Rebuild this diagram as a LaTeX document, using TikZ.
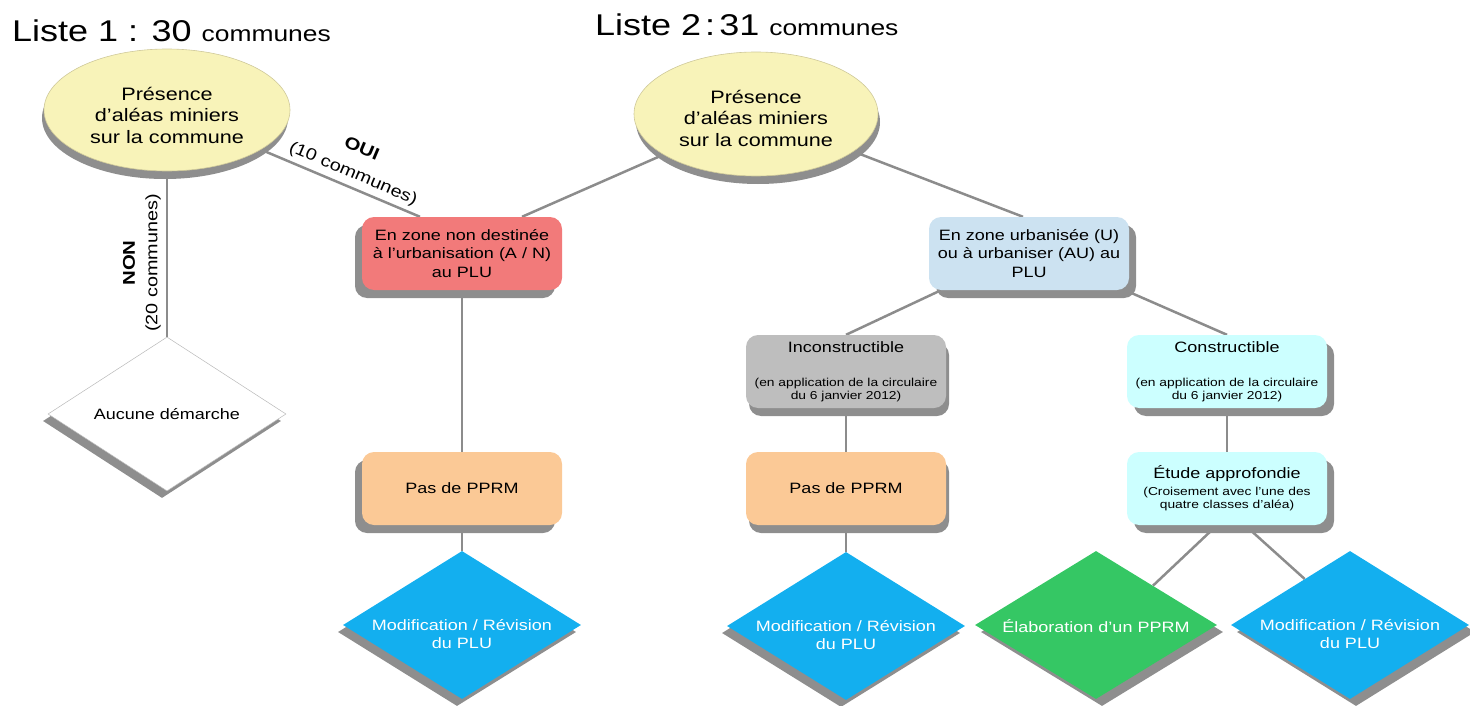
\documentclass[tikz,border=0pt]{standalone}
\usepackage{fontspec}
\setmainfont{Liberation Sans}[FakeStretch=1.2]
\usetikzlibrary{shapes.geometric,shadows,calc}
\definecolor{linec}{HTML}{8C8C8C}
\definecolor{shadowc}{HTML}{8E8E8E}
\definecolor{ellc}{HTML}{F8F3B9}
\definecolor{ellb}{HTML}{CFC99A}
\definecolor{redc}{HTML}{F27A7A}
\definecolor{orc}{HTML}{FBC996}
\definecolor{ubc}{HTML}{CCE2F1}
\definecolor{grc}{HTML}{BEBEBE}
\definecolor{cyc}{HTML}{CCFFFF}
\definecolor{blc}{HTML}{13AFEF}
\definecolor{gnc}{HTML}{35C764}
\pgfdeclarelayer{bg}
\pgfsetlayers{bg,main}
\newcommand{\smallfnt}{\fontsize{11.5}{13}\selectfont}
\begin{document}
\begin{tikzpicture}[x=1pt,y=-1pt,
  conn/.style={draw=linec,line width=2.5pt},
  ell/.style={ellipse,fill=ellc,draw=ellb,line width=0.6pt,inner sep=0pt,
    minimum width=246pt,minimum height=122pt},
  etext/.style={align=center,inner sep=0pt,font=\fontsize{18}{21.5}\selectfont},
  box/.style={rectangle,rounded corners=12pt,minimum width=200pt,minimum height=73pt,
    inner sep=2pt,align=center,font=\fontsize{15}{18.5}\selectfont},
  shL/.style={drop shadow={shadow xshift=-7pt,shadow yshift=-8pt,fill=shadowc,opacity=1}},
  shR/.style={drop shadow={shadow xshift=7pt,shadow yshift=-8pt,fill=shadowc,opacity=1}},
  shD/.style={drop shadow={shadow xshift=3pt,shadow yshift=-8pt,fill=shadowc,opacity=1}},
  shEL/.style={drop shadow={shadow xshift=-2pt,shadow yshift=-8pt,fill=shadowc,opacity=1}},
  shER/.style={drop shadow={shadow xshift=2pt,shadow yshift=-8pt,fill=shadowc,opacity=1}},
  dshL/.style={drop shadow={shadow xshift=-5pt,shadow yshift=-7pt,fill=shadowc,opacity=1}},
  dshR/.style={drop shadow={shadow xshift=6pt,shadow yshift=-7pt,fill=shadowc,opacity=1}},
  dia/.style={diamond,inner sep=0pt,minimum width=238pt,minimum height=148pt},
  dtext/.style={align=center,inner sep=0pt,text=white,font=\fontsize{15}{18}\selectfont},
  lbl/.style={inner sep=0pt,font=\fontsize{16.5}{17}\selectfont},
  lblb/.style={inner sep=0pt,font=\bfseries\fontsize{17}{17}\selectfont}
]
\useasboundingbox (0,0) rectangle (1470,706);

% titles
\node[anchor=base west,inner sep=0pt] (t1) at (12,42)
  {\fontsize{30}{30}\selectfont Liste 1 : 30 \fontsize{22}{22}\selectfont communes};
\node[anchor=base west,inner sep=0pt] (t2) at (595,36)
  {\fontsize{30}{30}\selectfont Liste 2\hspace{4pt}:\hspace{4pt}31 \fontsize{22}{22}\selectfont communes};

% ellipses
\node[ell,shEL] (e1) at (167,110) {};
\node[etext] (e1t) at ([yshift=-5pt]e1.center) {Présence\\d'aléas miniers\\sur la commune};
\node[ell,shER,minimum width=244pt,minimum height=124pt] (e2) at (756,114) {};
\node[etext] (e2t) at ([yshift=-4pt]e2.center) {Présence\\d'aléas miniers\\sur la commune};

% boxes
\node[box,fill=redc,shL] (red) at (462,253.5) {En zone non destinée\\à l'urbanisation (A / N)\\au PLU};
\node[box,fill=orc,shL] (ppL) at (462,488.5) {Pas de PPRM};
\node[box,fill=ubc,shR] (uau) at (1029,253.5) {En zone urbanisée (U)\\ou à urbaniser (AU) au\\PLU};
\node[box,fill=grc,shD] (incons) at (846,371.5)
  {Inconstructible\\[15.5pt]\smallfnt (en application de la circulaire\\[-5.5pt]\smallfnt du 6 janvier 2012)};
\node[box,fill=orc,shD] (ppM) at (846,488.5) {Pas de PPRM};
\node[box,fill=cyc,shR] (cons) at (1227,371.5)
  {Constructible\\[15.5pt]\smallfnt (en application de la circulaire\\[-5.5pt]\smallfnt du 6 janvier 2012)};
\node[box,fill=cyc,shR] (etude) at (1227,488.5)
  {Étude approfondie\\[-1.5pt]\smallfnt (Croisement avec l'une des\\[-5.5pt]\smallfnt quatre classes d'aléa)};

% diamonds
\node[dia,fill=white,draw=gray!55,line width=0.5pt,dshL,minimum height=154pt] (dA) at (167,414) {};
\node[dtext,text=black] (dAt) at (dA.center) {Aucune démarche};
\node[dia,fill=blc,dshL] (dL) at (462,625) {};
\node[dtext] (dLt) at ([yshift=-9pt]dL.center) {Modification / Révision\\du PLU};
\node[dia,fill=blc,dshL] (dM) at (846,626) {};
\node[dtext] (dMt) at ([yshift=-9pt]dM.center) {Modification / Révision\\du PLU};
\node[dia,fill=gnc,dshR,minimum width=242pt] (dG) at (1096,625) {};
\node[dtext] (dGt) at ([yshift=-1pt]dG.center) {Élaboration d'un PPRM};
\node[dia,fill=blc,dshR] (dR) at (1350,625) {};
\node[dtext] (dRt) at ([yshift=-9pt]dR.center) {Modification / Révision\\du PLU};

% connector labels
\node[lblb,rotate=-23] (oui) at (362,148) {OUI};
\node[lbl,rotate=-23] (oui2) at (353,174) {(10 communes)};
\node[lblb,rotate=90] (non) at (129,263) {NON};
\node[lbl,rotate=90] (non2) at (153,263) {(20 communes)};

% connectors
\begin{pgfonlayer}{bg}
\draw[conn] (e1) -- ([xshift=-42pt]red.north);
\draw[conn] (e2) -- ([xshift=60pt]red.north);
\draw[conn] (e2) -- ([xshift=-6pt]uau.north);
\draw[conn] (e1.south) -- (dA.north);
\draw[conn] (red.south) -- (ppL.north);
\draw[conn] (ppL.south) -- (dL.north);
\draw[conn] ([xshift=-88pt]uau.south) -- (incons.north);
\draw[conn] ([xshift=96pt]uau.south) -- (cons.north);
\draw[conn] (incons.south) -- (ppM.north);
\draw[conn] (ppM.south) -- (dM.north);
\draw[conn] (cons.south) -- (etude.north);
\draw[conn] ([xshift=-10pt]etude.south) -- ($(dG.north)!0.47!(dG.east)$);
\draw[conn] ([xshift=18pt]etude.south) -- ($(dR.west)!0.62!(dR.north)$);
\end{pgfonlayer}
\end{tikzpicture}
\end{document}
